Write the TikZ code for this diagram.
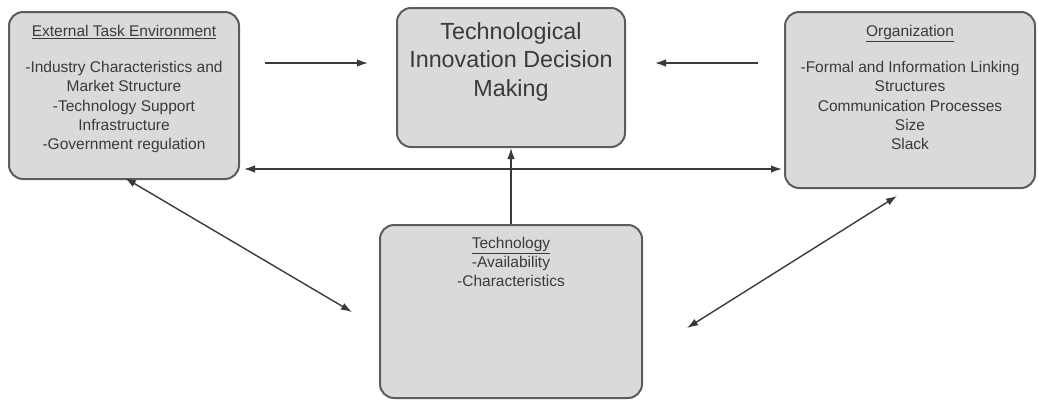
\documentclass[tikz,border=0pt]{standalone}
\usepackage{fontspec}
\setmainfont{Liberation Sans}
\usetikzlibrary{arrows.meta,calc,positioning}

\definecolor{boxfill}{RGB}{218,218,220}
\definecolor{boxline}{RGB}{92,92,92}
\definecolor{inkgray}{RGB}{58,58,58}

\begin{document}
\begin{tikzpicture}[x=1pt, y=1pt, >={Latex[length=11pt,width=7.5pt]},
		box/.style={draw=boxline, line width=2pt, fill=boxfill, rounded corners=14pt, inner sep=0pt},
		boxtext/.style={align=center, inner sep=0pt, text=inkgray, font=\fontsize{15.5}{19.3}\selectfont},
		link/.style={draw=inkgray, line width=1.4pt}]

			\useasboundingbox (0,0) rectangle (1038,-400);

			\node (ext) [box, minimum width=230pt, minimum height=167pt] at (124,-95.5) {};
			\node (tidm) [box, minimum width=228pt, minimum height=139pt] at (511,-77.5) {};
			\node (org) [box, minimum width=250pt, minimum height=176pt] at (910,-100) {};
			\node (tech) [box, minimum width=262pt, minimum height=173pt] at (511,-311.5) {};

			\node (exttext) [boxtext, below=14pt of ext.north] {\underline{External Task Environment}\\[16.7pt]
				-Industry Characteristics and\\ Market Structure\\ -Technology Support\\ Infrastructure\\ -Government regulation};
			\node (tidmtext) [boxtext, below=15pt of tidm.north, font=\fontsize{23.3}{28.5}\selectfont] {Technological\\ Innovation Decision\\ Making};
			\node (orgtext) [boxtext, below=14pt of org.north] {\underline{Organization}\\[16.7pt]
				-Formal and Information Linking\\ Structures\\ Communication Processes\\ Size\\ Slack};
			\node (techtext) [boxtext, below=13.5pt of tech.north, font=\fontsize{15.5}{18.7}\selectfont] {\underline{Technology}\\ -Availability\\ -Characteristics};

			\coordinate (extout) at (265,-63);
			\coordinate (tidmleft) at (368,-63);
			\coordinate (tidmright) at (655,-63);
			\coordinate (orgout) at (758,-63);
			\coordinate (extlow) at (244,-169);
			\coordinate (orglow) at (782,-169);
			\coordinate (extcorner) at (125,-178);
			\coordinate (techleft) at (352,-312);
			\coordinate (orgcorner) at (897,-196);
			\coordinate (techright) at (687,-328);

			\draw[link, ->] (extout) -- (tidmleft);
			\draw[link, ->] (orgout) -- (tidmright);
			\draw[link, <->] (extlow) -- (orglow);
			\draw[link, ->] (tech.north) -- (tidm.south);
			\draw[link, <->] (extcorner) -- (techleft);
			\draw[link, <->] (orgcorner) -- (techright);
		\end{tikzpicture}
\end{document}
